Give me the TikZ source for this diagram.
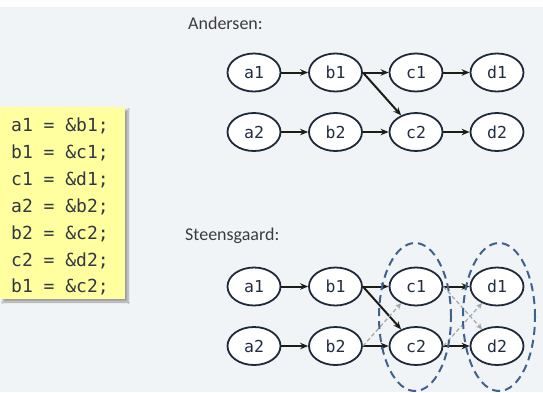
\documentclass[tikz,border=0pt]{standalone}
\usepackage{fontspec}
\setmainfont{Carlito}
\newfontfamily\codefont{DejaVu Sans Mono}
\usetikzlibrary{arrows.meta,shapes.geometric,shadows.blur}
\definecolor{bgcol}{RGB}{241,244,247}
\definecolor{nodeborder}{RGB}{30,42,60}
\definecolor{nodetext}{RGB}{35,45,65}
\definecolor{edgecol}{RGB}{28,28,24}
\definecolor{groupcol}{RGB}{62,98,140}
\definecolor{codebg}{RGB}{255,255,160}
\definecolor{codetext}{RGB}{50,55,65}
\definecolor{headtext}{RGB}{60,60,60}
\begin{document}
\begin{tikzpicture}[x=1pt,y=-1pt,
  vnode/.style={ellipse, draw=nodeborder, line width=1.8pt, fill=white,
    minimum width=53pt, minimum height=38pt, inner sep=0pt,
    font=\codefont\fontsize{16.5}{16.5}\selectfont, text=nodetext},
  edge/.style={-{Stealth[length=8pt,width=6.5pt]}, line width=2pt, draw=edgecol},
  gedge/.style={-{Stealth[length=6pt,width=5.5pt]}, line width=1.2pt, draw=gray!70,
    dash pattern=on 4pt off 2.5pt},
  group/.style={ellipse, draw=groupcol, line width=2pt, dash pattern=on 8pt off 5pt,
    minimum width=72pt, minimum height=148pt, inner sep=0pt},
  head/.style={anchor=base west, inner sep=0pt, font=\fontsize{18}{18}\selectfont, text=headtext},
  code/.style={anchor=base west, inner sep=0pt, font=\codefont\fontsize{18}{18}\selectfont, text=codetext}]
\useasboundingbox (0,0) rectangle (543,392);
\fill[white] (0,0) rectangle (543,392);
\fill[bgcol] (0,7) rectangle (543,392);

% code box
\fill[codebg, blur shadow={shadow xshift=3pt, shadow yshift=-3pt, shadow blur steps=6, shadow opacity=35}] (0,107) rectangle (125,299);
\node[code] (l1) at (11,131.5) {a1 = \&b1;};
\node[code] (l2) at (11,158.4) {b1 = \&c1;};
\node[code] (l3) at (11,185.3) {c1 = \&d1;};
\node[code] (l4) at (11,212.2) {a2 = \&b2;};
\node[code] (l5) at (11,239.1) {b2 = \&c2;};
\node[code] (l6) at (11,266.0) {c2 = \&d2;};
\node[code] (l7) at (11,292.9) {b1 = \&c2;};

% Andersen
\node[head] (hA) at (188,29) {Andersen:};
\node[vnode] (a1) at (254,72.5) {a1};
\node[vnode] (b1) at (335.5,72.5) {b1};
\node[vnode] (c1) at (416,72.5) {c1};
\node[vnode] (d1) at (497,72.5) {d1};
\node[vnode] (a2) at (254,132) {a2};
\node[vnode] (b2) at (335.5,132) {b2};
\node[vnode] (c2) at (416,132) {c2};
\node[vnode] (d2) at (497,132) {d2};
\draw[edge] (a1) -- (b1);
\draw[edge] (b1) -- (c1);
\draw[edge] (c1) -- (d1);
\draw[edge] (a2) -- (b2);
\draw[edge] (b2) -- (c2);
\draw[edge] (c2) -- (d2);
\draw[edge] (b1.east) -- (c2);

% Steensgaard
\node[head] (hS) at (185,240) {Steensgaard:};
\node[vnode] (sa1) at (254,286.5) {a1};
\node[vnode] (sb1) at (335.5,286.5) {b1};
\node[vnode] (sc1) at (416,286.5) {c1};
\node[vnode] (sd1) at (497,286.5) {d1};
\node[vnode] (sa2) at (254,346) {a2};
\node[vnode] (sb2) at (335.5,346) {b2};
\node[vnode] (sc2) at (416,346) {c2};
\node[vnode] (sd2) at (497,346) {d2};
\draw[edge] (sa1) -- (sb1);
\draw[edge] (sb1) -- (sc1);
\draw[edge] (sc1) -- (sd1);
\draw[edge] (sa2) -- (sb2);
\draw[edge] (sb2) -- (sc2);
\draw[edge] (sc2) -- (sd2);
\draw[edge] (sb1.east) -- (sc2);
\draw[gedge] (sb2.east) -- (sc1);
\draw[gedge] (sc1.east) -- (sd2);
\draw[gedge] (sc2.east) -- (sd1);
\node[group] (g1) at (415,317) {};
\node[group] (g2) at (499,317) {};
\end{tikzpicture}
\end{document}
